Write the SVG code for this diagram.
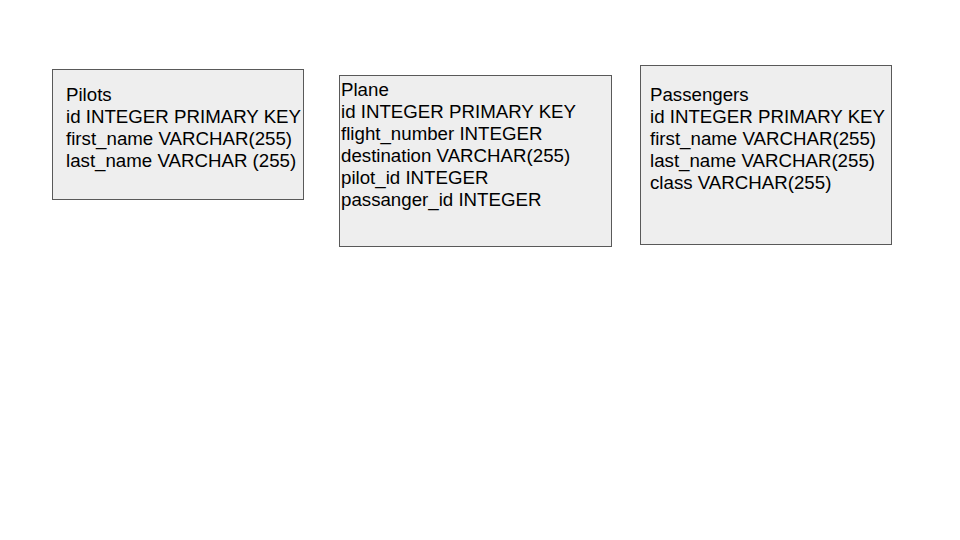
<svg xmlns="http://www.w3.org/2000/svg" width="960" height="540" viewBox="0 0 960 540">
<style>
.box{fill:#eeeeee;stroke:#595959;stroke-width:1}
.t{font-family:"Liberation Sans",Arial,sans-serif;font-size:18.7px;fill:#000}
</style>
<rect width="960" height="540" fill="#ffffff"/>
<g id="pilots">
<rect class="box" x="52.5" y="69.5" width="251" height="130"/>
<text class="t"><tspan x="66" y="101">Pilots</tspan><tspan x="66" y="123">id INTEGER PRIMARY KEY</tspan><tspan x="66" y="145">first_name VARCHAR(255)</tspan><tspan x="66" y="167">last_name VARCHAR (255)</tspan></text>
</g>
<g id="plane">
<rect class="box" x="339.5" y="75.5" width="272" height="171"/>
<text class="t"><tspan x="341" y="96">Plane</tspan><tspan x="341" y="118">id INTEGER PRIMARY KEY</tspan><tspan x="341" y="140">flight_number INTEGER</tspan><tspan x="341" y="162">destination VARCHAR(255)</tspan><tspan x="341" y="184">pilot_id INTEGER</tspan><tspan x="341" y="206">passanger_id INTEGER</tspan></text>
</g>
<g id="passengers">
<rect class="box" x="640.5" y="65.5" width="251" height="179"/>
<text class="t"><tspan x="650" y="101">Passengers</tspan><tspan x="650" y="123">id INTEGER PRIMARY KEY</tspan><tspan x="650" y="145">first_name VARCHAR(255)</tspan><tspan x="650" y="167">last_name VARCHAR(255)</tspan><tspan x="650" y="189">class VARCHAR(255)</tspan></text>
</g>
<g id="connectors"></g>
</svg>
